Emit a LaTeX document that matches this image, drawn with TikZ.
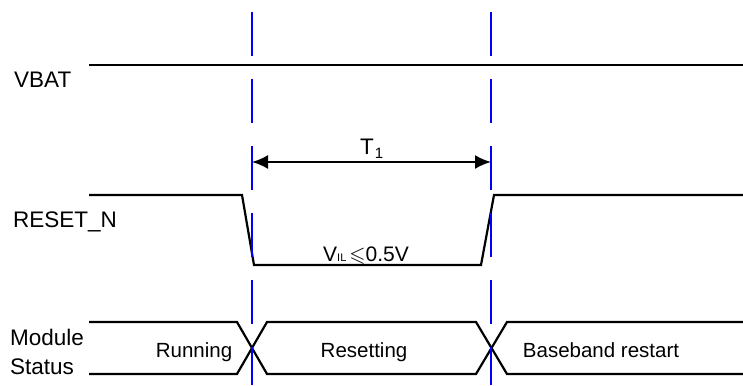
\documentclass[tikz,border=0pt]{standalone}
\usepackage{amssymb}
\usepackage{fontspec}
\setmainfont{Liberation Sans}
\usetikzlibrary{arrows.meta}
\begin{document}
\begin{tikzpicture}[x=1pt,y=-1pt,
  sig/.style={line width=2.2pt, line join=miter},
  marker/.style={blue, line width=2pt, dash pattern=on 44pt off 23pt},
  dim/.style={line width=2pt, {Latex[length=16pt,width=14pt]}-{Latex[length=16pt,width=14pt]}},
  lbl/.style={inner sep=0pt, font=\fontsize{22.5}{29}\selectfont},
  state/.style={inner sep=0pt, font=\fontsize{20.5}{24}\selectfont}]
\useasboundingbox (0,0) rectangle (743,385);

% signal names
\node[lbl, anchor=base west] (vbat) at (14,88) {VBAT};
\node[lbl, anchor=base west] (rst) at (13,227) {RESET\_N};
\node[lbl, anchor=base west] (mod) at (10,345) {Module};
\node[lbl, anchor=base west] (stat) at (10,374) {Status};

% VBAT
\coordinate (vb0) at (89,65);
\coordinate (vb1) at (743,65);
\draw[sig] (vb0) -- (vb1);

% RESET_N pulse
\coordinate (r0) at (89,195);
\coordinate (r1) at (242,195);
\coordinate (r2) at (254,265);
\coordinate (r3) at (481,265);
\coordinate (r4) at (494,195);
\coordinate (r5) at (743,195);
\draw[sig] (r0) -- (r1) -- (r2) -- (r3) -- (r4) -- (r5);

% module status bus
\coordinate (sa) at (89,322);
\coordinate (sb) at (89,374);
\coordinate (c1t) at (237,322);
\coordinate (c1b) at (237,374);
\coordinate (c2t) at (267,322);
\coordinate (c2b) at (267,374);
\coordinate (c3t) at (476,322);
\coordinate (c3b) at (476,374);
\coordinate (c4t) at (507,322);
\coordinate (c4b) at (507,374);
\coordinate (et) at (743,322);
\coordinate (eb) at (743,374);
\draw[sig] (sa) -- (c1t) -- (c2b) -- (c3b) -- (c4t) -- (et);
\draw[sig] (sb) -- (c1b) -- (c2t) -- (c3t) -- (c4b) -- (eb);

\node[state, anchor=base] (run) at (194,357) {Running};
\node[state, anchor=base] (resetting) at (364,357) {Resetting};
\node[state, anchor=base] (bb) at (601,357) {Baseband restart};

% timing markers
\coordinate (m1a) at (252,12);
\coordinate (m1b) at (252,385);
\coordinate (m2a) at (491,12);
\coordinate (m2b) at (491,385);
\draw[marker] (m1a) -- (m1b);
\draw[marker] (m2a) -- (m2b);

% T1 interval
\coordinate (t1l) at (252,162);
\coordinate (t1r) at (491,162);
\draw[dim] (t1l) -- (t1r);
\node[lbl, anchor=base west] (t1) at (360,154) {T\hspace{1pt}\raisebox{-4pt}{\fontsize{15}{15}\selectfont 1}};

% low level
\node[inner sep=0pt, anchor=base west] (vil) at (323,261)
  {\fontsize{21}{24}\selectfont V{\fontsize{11}{11}\selectfont IL}\hspace{3pt}{\fontsize{21}{21}\selectfont$\leqslant$}0.5V};
\end{tikzpicture}
\end{document}
